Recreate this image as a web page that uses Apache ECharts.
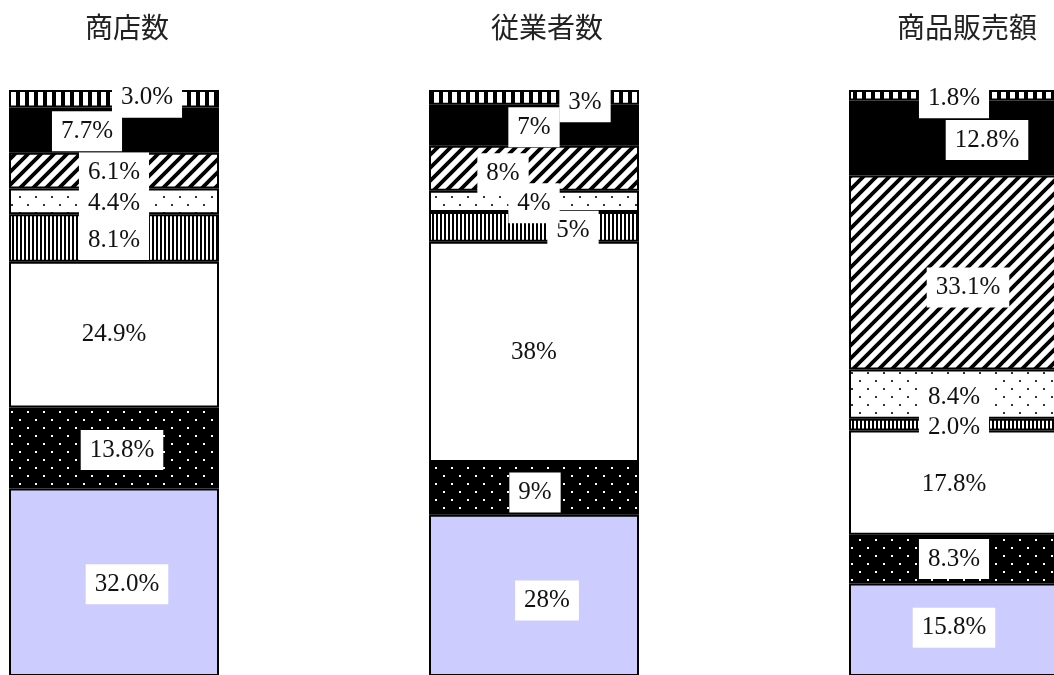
<!DOCTYPE html>
<html>
<head>
<meta charset="utf-8">
<script src="https://cdn.jsdelivr.net/npm/echarts@6/dist/echarts.min.js"></script>
<style>
  html, body { margin: 0; padding: 0; background: #fff; }
  #chart { width: 1054px; height: 675px; }
</style>
</head>
<body>
<div id="chart"></div>
<script>
// categories (bar titles)
var categories = ['商店数', '従業者数', '商品販売額'];
// decimals shown in each bar's labels
var decimals = [1, 0, 1];

// stacked segments, bottom to top (percent of each bar)
var seg1 = [32.0, 27.5, 15.8];
var seg2 = [13.8, 9.0, 8.3];
var seg3 = [24.9, 37.6, 17.8];
var seg4 = [8.1, 5.1, 2.0];
var seg5 = [4.4, 3.6, 8.4];
var seg6 = [6.1, 7.7, 33.1];
var seg7 = [7.7, 7.0, 12.8];
var seg8 = [3.0, 2.5, 1.8];

(function () {
    "use strict";

    // canvas pattern tiles
    function tile(w, h, draw) {
        var c = document.createElement('canvas');
        c.width = w;
        c.height = h;
        draw(c.getContext('2d'), w, h);
        return { image: c, repeat: 'repeat' };
    }

    var patDotBlack = tile(16, 16, function (ctx, w, h) {
        ctx.fillStyle = '#000';
        ctx.fillRect(0, 0, w, h);
        ctx.fillStyle = '#fff';
        ctx.fillRect(3, 3, 2, 2);
        ctx.fillRect(11, 11, 2, 2);
    });
    var patVert = tile(4, 4, function (ctx, w, h) {
        ctx.fillStyle = '#fff';
        ctx.fillRect(0, 0, w, h);
        ctx.fillStyle = '#000';
        ctx.fillRect(0, 0, 2, h);
    });
    var patDotLight = tile(16, 16, function (ctx, w, h) {
        ctx.fillStyle = '#fff';
        ctx.fillRect(0, 0, w, h);
        ctx.fillStyle = '#333';
        ctx.fillRect(3, 4, 2, 2);
        ctx.fillRect(11, 12, 2, 2);
    });
    var patHatch = tile(13, 13, function (ctx, w, h) {
        ctx.fillStyle = '#fff';
        ctx.fillRect(0, 0, w, h);
        ctx.strokeStyle = '#000';
        ctx.lineWidth = 3.8;
        ctx.beginPath();
        ctx.moveTo(0, h); ctx.lineTo(w, 0);
        ctx.moveTo(-w / 2, h / 2); ctx.lineTo(w / 2, -h / 2);
        ctx.moveTo(w / 2, h * 1.5); ctx.lineTo(w * 1.5, h / 2);
        ctx.stroke();
    });
    var patTopStripe = tile(9, 20, function (ctx, w, h) {
        ctx.fillStyle = '#000';
        ctx.fillRect(0, 0, w, h);
        ctx.fillStyle = '#fff';
        ctx.fillRect(2, 0, 5, h);
    });

    var fills = ['#ccccff', patDotBlack, '#ffffff', patVert, patDotLight, patHatch, '#000000', patTopStripe];
    var segs = [seg1, seg2, seg3, seg4, seg5, seg6, seg7, seg8];

    // label nudges [dx, dy] per segment, per bar
    var nudges = [
        [[13, 2], [13, 5], [0, -2]],
        [[8, 2], [1, 4], [0, 0]],
        [[0, 0], [0, 0], [0, 2]],
        [[0, 2], [39, 4], [0, 3]],
        [[0, 2], [0, 2], [0, 3]],
        [[0, 2], [-31, 5], [14, 15]],
        [[-27, 1], [0, 2], [33, 2]],
        [[33, -1], [51, 5], [0, 3]]
    ];

    var series = segs.map(function (vals, si) {
        return {
            name: 'seg' + (si + 1),
            type: 'bar',
            stack: 'total',
            barWidth: 210,
            animation: false,
            itemStyle: {
                color: fills[si],
                borderColor: '#000',
                borderWidth: 2
            },
            data: vals.map(function (v, ci) {
                return {
                    value: v,
                    label: { offset: nudges[si][ci] }
                };
            }),
            label: {
                show: true,
                position: 'inside',
                fontFamily: 'Liberation Serif',
                fontSize: 25,
                lineHeight: 24,
                color: '#111',
                backgroundColor: '#fff',
                padding: [8, 9],
                formatter: function (p) {
                    return p.value.toFixed(decimals[p.dataIndex]) + '%';
                }
            }
        };
    });

    var option = {
        backgroundColor: '#fff',
        grid: {
            left: -96,
            width: 1260,
            top: 90,
            height: 586,
            containLabel: false,
            outerBoundsMode: 'none'
        },
        xAxis: {
            type: 'category',
            position: 'top',
            data: categories,
            axisLine: { show: false },
            axisTick: { show: false },
            axisLabel: {
                margin: 49,
                fontFamily: 'Noto Sans CJK JP',
                fontSize: 28,
                color: '#222',
                padding: [0, 0, 0, 26]
            }
        },
        yAxis: {
            type: 'value',
            min: 0,
            max: 100,
            show: false
        },
        series: series
    };

    var chart = echarts.init(document.getElementById('chart'));
    chart.setOption(option);
})();
</script>
</body>
</html>
